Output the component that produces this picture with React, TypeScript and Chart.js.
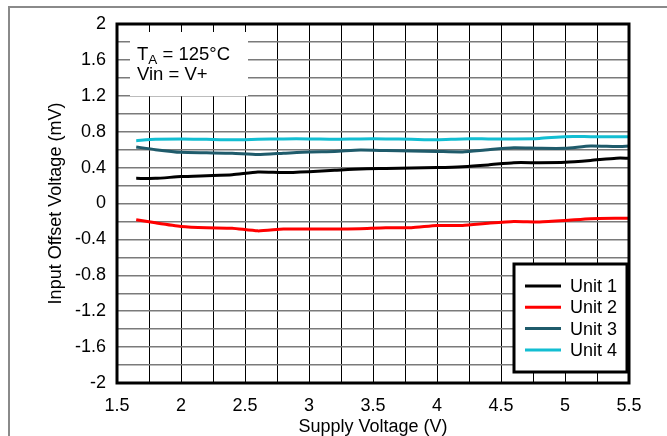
import React, { useEffect, useRef } from "react";
import { Chart, registerables } from "chart.js";

Chart.register(...registerables);

const supplyVoltage = [1.65, 1.8, 2.0, 2.2, 2.4, 2.6, 2.8, 3.0, 3.2, 3.4, 3.6, 3.8, 4.0, 4.2, 4.4, 4.6, 4.8, 5.0, 5.2, 5.4, 5.5];
const unit1 = [0.28, 0.28, 0.3, 0.31, 0.32, 0.35, 0.345, 0.355, 0.37, 0.385, 0.39, 0.395, 0.4, 0.41, 0.43, 0.455, 0.455, 0.46, 0.48, 0.505, 0.505];
const unit2 = [-0.18, -0.215, -0.255, -0.27, -0.275, -0.305, -0.285, -0.285, -0.285, -0.28, -0.27, -0.27, -0.245, -0.245, -0.22, -0.2, -0.205, -0.19, -0.17, -0.165, -0.165];
const unit3 = [0.63, 0.6, 0.57, 0.565, 0.56, 0.545, 0.56, 0.575, 0.58, 0.595, 0.59, 0.585, 0.58, 0.575, 0.6, 0.62, 0.615, 0.615, 0.64, 0.635, 0.64];
const unit4 = [0.7, 0.715, 0.72, 0.715, 0.71, 0.715, 0.72, 0.72, 0.715, 0.72, 0.72, 0.715, 0.71, 0.72, 0.72, 0.72, 0.725, 0.745, 0.745, 0.745, 0.745];
const seriesNames = ["Unit 1", "Unit 2", "Unit 3", "Unit 4"];
const seriesColors = ["#000000", "#ff0000", "#1f5b6b", "#13bed2"];
const annotationLines = ["T", "A", " = 125°C", "Vin = V+"];
const xTitle = "Supply Voltage (V)";
const yTitle = "Input Offset Voltage (mV)";

const FONT = "'Liberation Sans', Arial, Helvetica, sans-serif";

const frameBorderPlugin = {
  id: "frameBorder",
  afterDatasetsDraw(chart: any) {
    const { ctx, chartArea } = chart;
    const { left, top, right, bottom } = chartArea;
    ctx.save();
    // annotation box
    const bx = left + 13, by = top + 8, bw = 118, bh = 64;
    ctx.fillStyle = "#ffffff";
    ctx.fillRect(bx, by, bw, bh);
    ctx.fillStyle = "#000000";
    ctx.textBaseline = "middle";
    ctx.textAlign = "left";
    ctx.font = `18.5px ${FONT}`;
    let tx = bx + 7;
    const l1 = by + 23;
    ctx.fillText(annotationLines[0], tx, l1);
    tx += ctx.measureText(annotationLines[0]).width;
    ctx.font = `13.5px ${FONT}`;
    ctx.fillText(annotationLines[1], tx, l1 + 5);
    tx += ctx.measureText(annotationLines[1]).width;
    ctx.font = `18.5px ${FONT}`;
    ctx.fillText(annotationLines[2], tx, l1);
    ctx.fillText(annotationLines[3], bx + 7, l1 + 20);

    // legend box
    const lw = 113, lh = 108;
    const lx = right - 2 - lw, ly = bottom - 11 - lh;
    ctx.fillStyle = "#ffffff";
    ctx.fillRect(lx, ly, lw, lh);
    ctx.strokeStyle = "#000000";
    ctx.lineWidth = 3;
    ctx.strokeRect(lx, ly, lw, lh);
    chart.data.datasets.forEach((ds: any, i: number) => {
      const yy = ly + 22 + i * 21.3;
      ctx.strokeStyle = ds.borderColor;
      ctx.lineWidth = 3;
      ctx.beginPath();
      ctx.moveTo(lx + 11, yy);
      ctx.lineTo(lx + 47, yy);
      ctx.stroke();
      ctx.fillStyle = "#000000";
      ctx.font = `18px ${FONT}`;
      ctx.fillText(ds.label, lx + 56, yy + 1);
    });

    // plot border
    ctx.strokeStyle = "#000000";
    ctx.lineWidth = 3;
    ctx.strokeRect(left, top, right - left, bottom - top);
    ctx.restore();
  },
};

export default function App() {
  const canvasRef = useRef<HTMLCanvasElement | null>(null);

  useEffect(() => {
    if (!canvasRef.current) return;
    const series = [unit1, unit2, unit3, unit4];
    const chart = new Chart(canvasRef.current, {
      type: "line",
      data: {
        datasets: series.map((vals, i) => ({
          label: seriesNames[i],
          data: supplyVoltage.map((x, j) => ({ x, y: vals[j] })),
          borderColor: seriesColors[i],
          backgroundColor: seriesColors[i],
          borderWidth: 3,
          pointRadius: 0,
          tension: 0.2,
          fill: false,
        })),
      },
      options: {
        responsive: false,
        animation: false,
        devicePixelRatio: 1,
        layout: { padding: { left: 0, top: 24, right: 38, bottom: 0 } },
        plugins: { legend: { display: false }, tooltip: { enabled: false } },
        scales: {
          x: {
            type: "linear",
            min: 1.5,
            max: 5.5,
            afterFit: (s: any) => {
              s.height = 53;
            },
            ticks: {
              stepSize: 0.25,
              autoSkip: false,
              maxRotation: 0,
              padding: 12,
              color: "#000000",
              font: { family: FONT, size: 18 },
              callback: (value: any) => {
                const v = Math.round(Number(value) * 100);
                return v % 50 === 0 ? String(v / 100) : "";
              },
            },
            grid: { color: "#000000", lineWidth: 1, drawTicks: false },
            border: { display: false },
            title: {
              display: true,
              text: xTitle,
              color: "#000000",
              font: { family: FONT, size: 18, lineHeight: 1.0 },
              padding: { top: 0, bottom: 0 },
            },
          },
          y: {
            type: "linear",
            min: -2,
            max: 2,
            afterFit: (s: any) => {
              s.width = 117;
            },
            ticks: {
              stepSize: 0.2,
              autoSkip: false,
              padding: 11,
              color: "#000000",
              font: { family: FONT, size: 18 },
              callback: (value: any) => {
                const v = Math.round(Number(value) * 10);
                return v % 4 === 0 ? String(v / 10) : "";
              },
            },
            grid: { color: "#7a7a7a", lineWidth: 1.5, drawTicks: false },
            border: { display: false },
            title: {
              display: true,
              text: yTitle,
              color: "#000000",
              font: { family: FONT, size: 18 },
              padding: { top: 45, bottom: 0 },
            },
          },
        },
      },
      plugins: [frameBorderPlugin],
    });
    return () => chart.destroy();
  }, []);

  return (
    <>
      <div
        style={{
          position: "fixed",
          left: 8,
          top: 6,
          width: 659,
          height: 430,
          boxSizing: "border-box",
          borderTop: "2px solid #8a8a8a",
          borderLeft: "2px solid #8a8a8a",
        }}
      />
      <canvas
        ref={canvasRef}
        width={667}
        height={436}
        style={{ position: "fixed", left: 0, top: 0, width: 667, height: 436, zIndex: 1 }}
      />
    </>
  );
}
